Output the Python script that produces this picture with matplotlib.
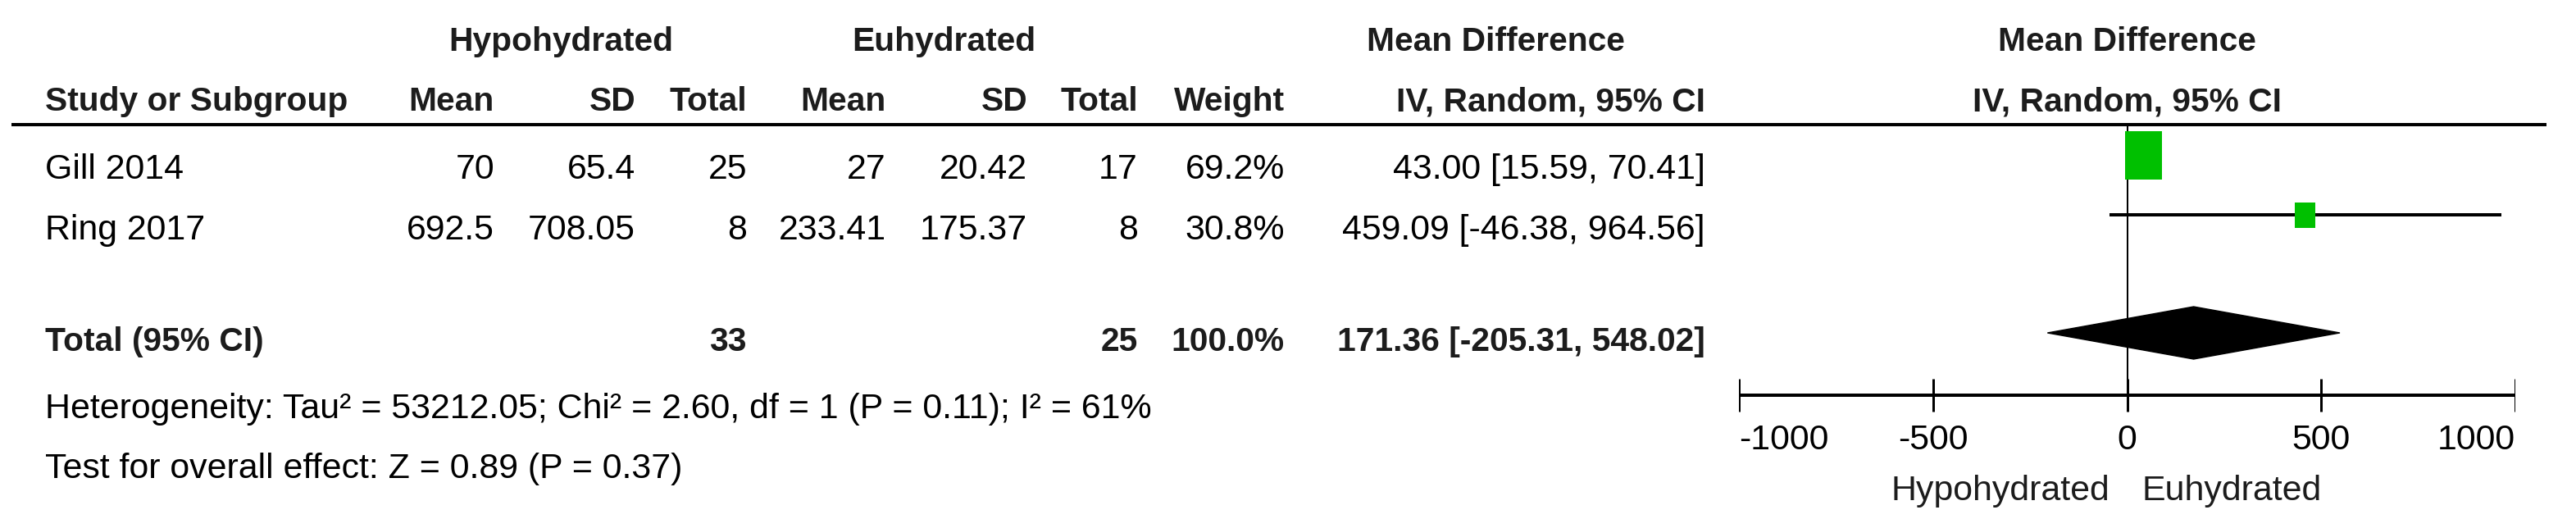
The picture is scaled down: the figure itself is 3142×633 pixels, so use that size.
import matplotlib
matplotlib.use("Agg")
import matplotlib.pyplot as plt
from matplotlib.font_manager import FontProperties
from matplotlib.patches import Rectangle, Polygon

# ---------------- data ----------------
studies = ["Gill 2014", "Ring 2017"]
hypo_mean = [70, 692.5]
hypo_sd = [65.4, 708.05]
hypo_total = [25, 8]
eu_mean = [27, 233.41]
eu_sd = [20.42, 175.37]
eu_total = [17, 8]
weight = [69.2, 30.8]
md = [43.00, 459.09]
md_lo = [15.59, -46.38]
md_hi = [70.41, 964.56]

total_label = "Total (95% CI)"
total_hypo = 33
total_eu = 25
total_weight = 100.0
total_md = 171.36
total_lo = -205.31
total_hi = 548.02

heterogeneity = "Heterogeneity: Tau\u00b2 = 53212.05; Chi\u00b2 = 2.60, df = 1 (P = 0.11); I\u00b2 = 61%"
overall = "Test for overall effect: Z = 0.89 (P = 0.37)"

group_labels = ["Hypohydrated", "Euhydrated"]
col_headers = ["Mean", "SD", "Total", "Mean", "SD", "Total", "Weight", "IV, Random, 95% CI"]
study_header = "Study or Subgroup"
effect_title = "Mean Difference"
effect_method = "IV, Random, 95% CI"
x_ticks = [-1000, -500, 0, 500, 1000]
favours = ["Hypohydrated", "Euhydrated"]

# ---------------- layout / style ----------------
W, H, DPI = 3142, 633, 100
PX_AX_LEFT, PX_AX_RIGHT = 2121, 3068
LEFT_X = 55
COL_RIGHT = [603, 775, 911, 1081, 1253, 1388, 1567, 2080]
GROUP_CENTER = [684, 1151]
MD_TITLE_CENTER = 1824
Y_HEAD1, Y_HEAD2 = 62, 135
Y_ROWS = [218, 292]
Y_MARK = [189, 262]
Y_TOTAL, Y_DIAMOND = 428, 406
DIAMOND_HALF_H = 32
Y_HET, Y_OVERALL = 510, 583
Y_RULE = 152
Y_AXIS = 482
TICK_HALF = 20
Y_TICKLAB = 548
Y_FAV = 610
FAV_GAP = (21, 18)
BOX_PX = [(45, 59), (25, 31)]
GREEN = "#00C000"
HEAD_COLOR = "#1c1c1c"
PT = 72.0 / DPI
HET_WIDTH_PX = 1348      # measured width of the heterogeneity line
STUDY_HDR_WIDTH_PX = 369  # measured width of the bold "Study or Subgroup"

FP_REG = FontProperties(family=["Liberation Sans", "DejaVu Sans"])
FP_BOLD = FontProperties(family=["Liberation Sans", "DejaVu Sans"], weight="bold")

fig = plt.figure(figsize=(W / DPI, H / DPI), dpi=DPI)
fig.patch.set_facecolor("white")
ax_t = fig.add_axes([0, 0, 1, 1])
ax_t.set_xlim(0, W)
ax_t.set_ylim(H, 0)
ax_t.axis("off")

ax_p = fig.add_axes([PX_AX_LEFT / W, 0, (PX_AX_RIGHT - PX_AX_LEFT) / W, 1])
ax_p.set_xlim(x_ticks[0], x_ticks[-1])
ax_p.set_ylim(H, 0)
ax_p.axis("off")

# calibrate font sizes to the reference text widths
renderer = fig.canvas.get_renderer()


def calib(s, fp, target):
    probe = ax_t.text(0, 0, s, fontproperties=fp, fontsize=30)
    w = probe.get_window_extent(renderer).width
    probe.remove()
    return 30 * target / w


FS = calib(heterogeneity, FP_REG, HET_WIDTH_PX)
FS_B = calib(study_header, FP_BOLD, STUDY_HDR_WIDTH_PX)


def txt(x, y, s, bold=False, ha="left", ax=None, color="black"):
    (ax or ax_t).text(x, y, s, fontproperties=FP_BOLD if bold else FP_REG,
                      fontsize=FS_B if bold else FS, ha=ha, va="baseline", color=color)


def fmt(v):
    return f"{v:g}"

# headers
for lab, cx in zip(group_labels, GROUP_CENTER):
    txt(cx, Y_HEAD1, lab, bold=True, ha="center", color=HEAD_COLOR)
txt(MD_TITLE_CENTER, Y_HEAD1, effect_title, bold=True, ha="center", color=HEAD_COLOR)
txt(LEFT_X, Y_HEAD2, study_header, bold=True, color=HEAD_COLOR)
for lab, xr in zip(col_headers, COL_RIGHT):
    txt(xr, Y_HEAD2, lab, bold=True, ha="right", color=HEAD_COLOR)
txt(0, Y_HEAD1, effect_title, bold=True, ha="center", ax=ax_p, color=HEAD_COLOR)
txt(0, Y_HEAD2, effect_method, bold=True, ha="center", ax=ax_p, color=HEAD_COLOR)

# header rule
ax_t.plot([14, 3106], [Y_RULE, Y_RULE], color="black", lw=4 * PT, solid_capstyle="butt")

# study rows
for i, name in enumerate(studies):
    y = Y_ROWS[i]
    txt(LEFT_X, y, name)
    vals = [fmt(hypo_mean[i]), fmt(hypo_sd[i]), str(hypo_total[i]),
            fmt(eu_mean[i]), fmt(eu_sd[i]), str(eu_total[i]),
            f"{weight[i]:.1f}%",
            f"{md[i]:.2f} [{md_lo[i]:.2f}, {md_hi[i]:.2f}]"]
    for v, xr in zip(vals, COL_RIGHT):
        txt(xr, y, v, ha="right")

# total row
txt(LEFT_X, Y_TOTAL, total_label, bold=True, color=HEAD_COLOR)
txt(COL_RIGHT[2], Y_TOTAL, str(total_hypo), bold=True, ha="right", color=HEAD_COLOR)
txt(COL_RIGHT[5], Y_TOTAL, str(total_eu), bold=True, ha="right", color=HEAD_COLOR)
txt(COL_RIGHT[6], Y_TOTAL, f"{total_weight:.1f}%", bold=True, ha="right", color=HEAD_COLOR)
txt(COL_RIGHT[7], Y_TOTAL, f"{total_md:.2f} [{total_lo:.2f}, {total_hi:.2f}]",
    bold=True, ha="right", color=HEAD_COLOR)

txt(LEFT_X, Y_HET, heterogeneity)
txt(LEFT_X, Y_OVERALL, overall)

# forest plot
ppu = (PX_AX_RIGHT - PX_AX_LEFT) / (x_ticks[-1] - x_ticks[0])
ax_p.plot([0, 0], [Y_RULE, Y_AXIS], color="black", lw=2 * PT, zorder=1)
for i in range(len(studies)):
    y = Y_MARK[i]
    ax_p.plot([md_lo[i], md_hi[i]], [y, y], color="black", lw=4 * PT,
              solid_capstyle="butt", zorder=2)
    bw, bh = BOX_PX[i]
    ax_p.add_patch(Rectangle((md[i] - bw / 2 / ppu, y - bh / 2), bw / ppu, bh,
                             facecolor=GREEN, edgecolor="none", zorder=3))

ax_p.add_patch(Polygon([(total_lo, Y_DIAMOND), (total_md, Y_DIAMOND - DIAMOND_HALF_H),
                        (total_hi, Y_DIAMOND), (total_md, Y_DIAMOND + DIAMOND_HALF_H)],
                       closed=True, facecolor="black", edgecolor="black", lw=1, zorder=3))

# axis
ax_p.plot([x_ticks[0], x_ticks[-1]], [Y_AXIS, Y_AXIS], color="black", lw=4 * PT,
          solid_capstyle="butt")
ax_p.vlines(x_ticks, Y_AXIS - TICK_HALF, Y_AXIS + TICK_HALF, color="black", lw=3 * PT)
for k, t in enumerate(x_ticks):
    ha = "left" if k == 0 else ("right" if k == len(x_ticks) - 1 else "center")
    txt(t, Y_TICKLAB, f"{t}", ha=ha, ax=ax_p)

zero_px = PX_AX_LEFT + (0 - x_ticks[0]) * ppu
txt(zero_px - FAV_GAP[0], Y_FAV, favours[0], ha="right", color=HEAD_COLOR)
txt(zero_px + FAV_GAP[1], Y_FAV, favours[1], ha="left", color=HEAD_COLOR)

fig.savefig("out.png", dpi=DPI, facecolor="white")
